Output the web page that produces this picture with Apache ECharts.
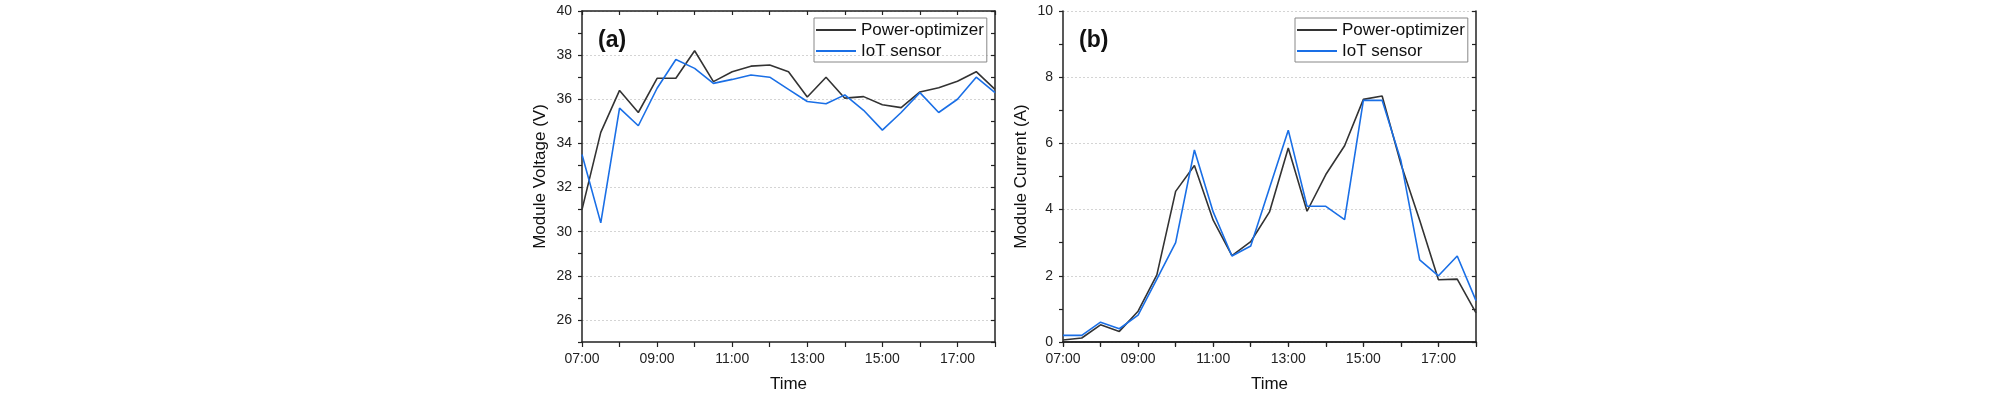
<!DOCTYPE html>
<html>
<head>
<meta charset="utf-8">
<script src="https://cdn.jsdelivr.net/npm/echarts@6/dist/echarts.min.js"></script>
<style>
  html, body { margin: 0; padding: 0; background: #fff; }
  #chartBox { width: 2008px; height: 398px; }
</style>
</head>
<body>
<div id="chartBox"></div>
<script>
// half-hourly samples, 07:00 - 18:00
const times = ['07:00', '07:30', '08:00', '08:30', '09:00', '09:30', '10:00', '10:30',
  '11:00', '11:30', '12:00', '12:30', '13:00', '13:30', '14:00', '14:30',
  '15:00', '15:30', '16:00', '16:30', '17:00', '17:30', '18:00']

const voltOptimizer = [31.0, 34.5, 36.4, 35.4, 36.95, 36.95, 38.2, 36.8, 37.25, 37.5, 37.55, 37.25,
  36.1, 37.0, 36.05, 36.12, 35.75, 35.62, 36.33, 36.52, 36.82, 37.25, 36.45]
const voltIoT = [33.5, 30.4, 35.6, 34.8, 36.5, 37.8, 37.4, 36.72, 36.9, 37.1, 37.0, 36.45,
  35.9, 35.8, 36.2, 35.5, 34.6, 35.4, 36.3, 35.4, 36.0, 37.0, 36.3]

const currOptimizer = [0.06, 0.12, 0.52, 0.32, 0.93, 2.03, 4.55, 5.33, 3.68, 2.61, 3.03, 3.93,
  5.86, 3.95, 5.06, 5.93, 7.33, 7.43, 5.38, 3.68, 1.88, 1.9, 0.88]
const currIoT = [0.2, 0.2, 0.6, 0.4, 0.81, 1.9, 3.0, 5.8, 3.93, 2.6, 2.9, 4.65,
  6.4, 4.1, 4.1, 3.7, 7.3, 7.3, 5.48, 2.48, 2.0, 2.6, 1.25]

const voltRange = [25, 40]
const currRange = [0, 10]
const seriesNames = ['Power-optimizer', 'IoT sensor']
const lineColors = ['#333333', '#1a6fe6']

const FONT = 'Liberation Sans, Arial, sans-serif'
const AXIS_COLOR = '#222'

function xAxes(gridIndex) {
  return [
    {
      type: 'category',
      gridIndex: gridIndex,
      data: times,
      boundaryGap: false,
      name: 'Time',
      nameLocation: 'middle',
      nameGap: 34,
      nameTextStyle: { fontFamily: FONT, fontSize: 17, color: '#111' },
      axisLine: { lineStyle: { color: AXIS_COLOR, width: 1.5 } },
      axisTick: { show: true, interval: 1, length: 5, inside: false, lineStyle: { color: AXIS_COLOR, width: 1.2 } },
      axisLabel: { interval: 3, margin: 10, fontFamily: FONT, fontSize: 14, color: '#222' },
      splitLine: { show: false }
    },
    {
      type: 'category',
      gridIndex: gridIndex,
      position: 'top',
      data: times,
      boundaryGap: false,
      axisLine: { lineStyle: { color: AXIS_COLOR, width: 1.5 } },
      axisTick: { show: true, interval: 1, length: 4, inside: true, lineStyle: { color: AXIS_COLOR, width: 1.2 } },
      axisLabel: { show: false },
      splitLine: { show: false }
    }
  ]
}

function yAxes(gridIndex, range, title) {
  // dotted grid only on the labelled (even) values
  const evenFirst = range[0] % 2 === 0
  const gridColors = evenFirst ? ['#d4d4d4', 'rgba(0,0,0,0)'] : ['rgba(0,0,0,0)', '#d4d4d4']
  return [
    {
      type: 'value',
      gridIndex: gridIndex,
      min: range[0],
      max: range[1],
      interval: 1,
      name: title,
      nameLocation: 'middle',
      nameGap: 33,
      nameTextStyle: { fontFamily: FONT, fontSize: 17, color: '#111' },
      axisLine: { show: true, lineStyle: { color: AXIS_COLOR, width: 1.5 } },
      axisTick: { show: true, length: 4, inside: false, lineStyle: { color: AXIS_COLOR, width: 1.2 } },
      axisLabel: {
        margin: 10,
        fontFamily: FONT,
        fontSize: 14,
        color: '#222',
        formatter: function(v) { return v % 2 === 0 ? String(v) : '' }
      },
      splitLine: { show: true, lineStyle: { color: gridColors, type: [2, 2], width: 1 } }
    },
    {
      type: 'value',
      gridIndex: gridIndex,
      position: 'right',
      min: range[0],
      max: range[1],
      interval: 1,
      axisLine: { show: true, lineStyle: { color: AXIS_COLOR, width: 1.5 } },
      axisTick: { show: true, length: 4, inside: true, lineStyle: { color: AXIS_COLOR, width: 1.2 } },
      axisLabel: { show: false },
      splitLine: { show: false }
    }
  ]
}

function lineSeries(name, data, color, axisOffset) {
  return {
    name: name,
    type: 'line',
    xAxisIndex: axisOffset,
    yAxisIndex: axisOffset,
    data: data,
    symbol: 'none',
    lineStyle: { color: color, width: 1.6 },
    itemStyle: { color: color }
  }
}

function legendAt(left) {
  return {
    left: left,
    top: 18,
    orient: 'vertical',
    data: seriesNames,
    icon: 'path://M0,0L40,0L40,2L0,2Z',
    itemWidth: 40,
    itemHeight: 2,
    itemGap: 3,
    padding: [3, 3, 2, 2],
    borderColor: '#888',
    borderWidth: 1,
    itemStyle: { borderWidth: 0 },
    lineStyle: { width: 0 },
    textStyle: { fontFamily: FONT, fontSize: 17, color: '#111', lineHeight: 18 }
  }
}

const chart = echarts.init(document.getElementById('chartBox'))
chart.setOption({
  animation: false,
  backgroundColor: '#fff',
  title: [
    { text: '(a)', left: 593, top: 24, textStyle: { fontFamily: FONT, fontSize: 23, fontWeight: 'bold', color: '#111' } },
    { text: '(b)', left: 1074, top: 24, textStyle: { fontFamily: FONT, fontSize: 23, fontWeight: 'bold', color: '#111' } }
  ],
  legend: [legendAt(814), legendAt(1295)],
  grid: [
    { left: 582, top: 11, width: 413, height: 333 },
    { left: 1063, top: 11, width: 413, height: 333 }
  ],
  xAxis: xAxes(0).concat(xAxes(1)),
  yAxis: yAxes(0, voltRange, 'Module Voltage (V)').concat(yAxes(1, currRange, 'Module Current (A)')),
  series: [
    lineSeries(seriesNames[0], voltOptimizer, lineColors[0], 0),
    lineSeries(seriesNames[1], voltIoT, lineColors[1], 0),
    lineSeries(seriesNames[0], currOptimizer, lineColors[0], 2),
    lineSeries(seriesNames[1], currIoT, lineColors[1], 2)
  ]
})
window.addEventListener('resize', () => {
  chart.resize()
})
</script>
</body>
</html>
